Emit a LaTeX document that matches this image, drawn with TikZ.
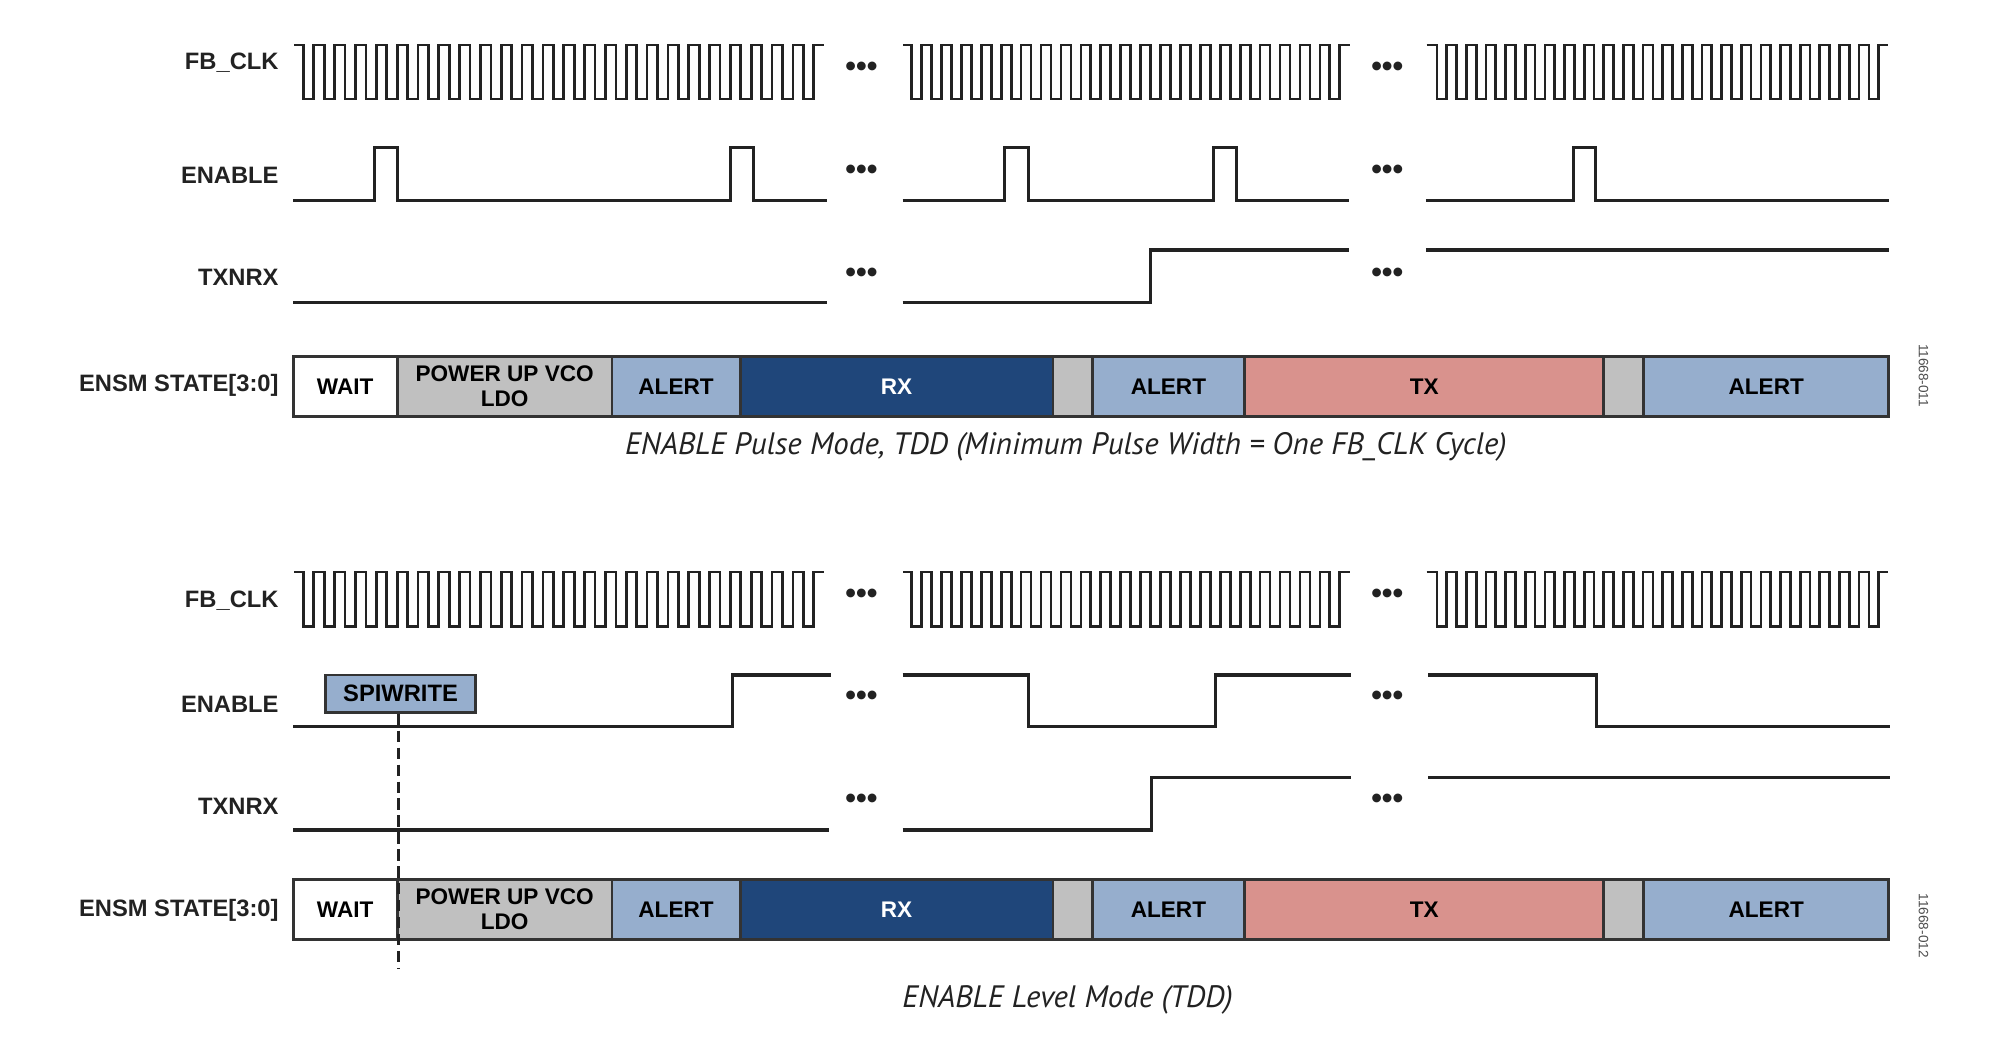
\documentclass[tikz,border=0pt]{standalone}
\usepackage{fontspec}
\setmainfont{Liberation Sans}
\newfontfamily\capfont{PT Sans}
\definecolor{wave}{HTML}{222222}
\definecolor{edge}{HTML}{333333}
\definecolor{greybox}{HTML}{C0C0C0}
\definecolor{lblue}{RGB}{150,174,205}
\definecolor{dblue}{RGB}{31,70,122}
\definecolor{pinkbox}{RGB}{217,146,141}
\newcommand{\clkwave}[6]{% x0, yhi, ylo, stub, n, period
  \draw[clk] (#1,#2) -- ++(#4,0)
    \foreach \k in {1,...,#5}{ -- ++(0,#3-#2) -- ++(#6/2,0) -- ++(0,#2-#3) -- ++(#6/2,0) };
}
\begin{document}
\begin{tikzpicture}[x=0.02cm,y=-0.02cm,
  clk/.style={draw=wave,line width=1.2pt,line join=miter},
  sig/.style={draw=wave,line width=1.4pt,line join=miter},
  lbl/.style={anchor=east,inner sep=0pt,text=wave,font=\fontsize{10.5}{12}\selectfont\bfseries},
  dots/.style={inner sep=0pt,text=wave,font=\fontsize{13.5}{15}\selectfont\bfseries},
  ensm/.style={draw=edge,line width=1.3pt,inner sep=0pt,align=center,text=black,
    font=\fontsize{10}{11}\selectfont\bfseries},
  captxt/.style={inner sep=0pt,text=wave,font=\capfont\itshape\fontsize{13.7}{15}\selectfont},
  fid/.style={inner sep=0pt,rotate=-90,text=black!70,font=\fontsize{6}{7}\selectfont},
  spi/.style={draw=edge,line width=1.3pt,fill=lblue,inner sep=0pt,minimum width=117*0.02cm,
    minimum height=29*0.02cm,font=\fontsize{10.5}{12}\selectfont\bfseries}
]
\useasboundingbox (0,0) rectangle (1568,807);

% ================= TOP PANEL =================
\node[lbl] (tclkl) at (217,49) {FB\_CLK};
\node[lbl] (tenl)  at (217,136) {ENABLE};
\node[lbl] (ttxl)  at (217,216) {TXNRX};
\node[lbl] (tensl) at (217,300) {ENSM STATE[3:0]};

\clkwave{229}{35}{77}{7}{25}{16.2}
\clkwave{702.5}{35}{77}{6.5}{22}{15.49}
\clkwave{1109.6}{35}{77}{8}{23}{15.27}

\draw[sig] (228,156) -- (291,156) -- (291,115) -- (309,115) -- (309,156) -- (568,156)
  -- (568,115) -- (586,115) -- (586,156) -- (643,156);
\draw[sig] (702,156) -- (781.5,156) -- (781.5,115) -- (800,115) -- (800,156) -- (944,156)
  -- (944,115) -- (962,115) -- (962,156) -- (1049,156);
\draw[sig] (1109,156) -- (1224,156) -- (1224,115) -- (1241,115) -- (1241,156) -- (1469,156);

\draw[sig] (228,235) -- (643,235);
\draw[sig] (702,235) -- (895,235) -- (895,194.5) -- (1049,194.5);
\draw[sig] (1109,194.5) -- (1469,194.5);

\foreach \xx/\nm in {670/a,1079/b}{
  \node[dots] (tdc\nm) at (\xx,54) {•••};
  \node[dots] (tde\nm) at (\xx,134) {•••};
  \node[dots] (tdt\nm) at (\xx,214) {•••};
}

\node[ensm,fill=white,minimum width=81*0.02cm,minimum height=46.2*0.02cm] (twait) at (268.5,300.5) {WAIT};
\node[ensm,fill=greybox,minimum width=167*0.02cm,minimum height=46.2*0.02cm] (tpwr) at (392.5,300.5) {POWER UP VCO\\LDO};
\node[ensm,fill=lblue,minimum width=99.6*0.02cm,minimum height=46.2*0.02cm] (tal1) at (525.8,300.5) {ALERT};
\node[ensm,fill=dblue,text=white,minimum width=243.4*0.02cm,minimum height=46.2*0.02cm] (trx) at (697.3,300.5) {RX};
\node[ensm,fill=greybox,minimum width=30.5*0.02cm,minimum height=46.2*0.02cm] (tg1) at (834.25,300.5) {};
\node[ensm,fill=lblue,minimum width=118.5*0.02cm,minimum height=46.2*0.02cm] (tal2) at (908.75,300.5) {ALERT};
\node[ensm,fill=pinkbox,minimum width=279.5*0.02cm,minimum height=46.2*0.02cm] (ttx) at (1107.75,300.5) {TX};
\node[ensm,fill=greybox,minimum width=31*0.02cm,minimum height=46.2*0.02cm] (tg2) at (1263,300.5) {};
\node[ensm,fill=lblue,minimum width=190.5*0.02cm,minimum height=46.2*0.02cm] (tal3) at (1373.75,300.5) {ALERT};

\node[captxt] (tcap) at (829,347.4) {ENABLE Pulse Mode, TDD (Minimum Pulse Width = One FB\_CLK Cycle)};
\node[fid] (tfid) at (1496,292) {11668-011};

% ================= BOTTOM PANEL =================
\node[lbl] (bclkl) at (217,467) {FB\_CLK};
\node[lbl] (benl)  at (217,548) {ENABLE};
\node[lbl] (btxl)  at (217,627) {TXNRX};
\node[lbl] (bensl) at (217,708) {ENSM STATE[3:0]};

\clkwave{229}{445}{487}{7}{25}{16.2}
\clkwave{702.5}{445}{487}{6.5}{22}{15.49}
\clkwave{1109.6}{445}{487}{8}{23}{15.27}

\draw[sig] (228,565) -- (569.5,565) -- (569.5,525) -- (646,525);
\draw[sig] (702,525) -- (800,525) -- (800,565) -- (945.6,565) -- (945.6,525) -- (1051,525);
\draw[sig] (1111,525) -- (1242,525) -- (1242,565) -- (1470,565);

\draw[sig] (228,645.6) -- (645,645.6);
\draw[sig] (702,645.6) -- (895.3,645.6) -- (895.3,605) -- (1051,605);
\draw[sig] (1111,605) -- (1470,605);

\foreach \xx/\nm in {670/a,1079/b}{
  \node[dots] (bdc\nm) at (\xx,464) {•••};
  \node[dots] (bde\nm) at (\xx,543) {•••};
  \node[dots] (bdt\nm) at (\xx,623.5) {•••};
}

\node[ensm,fill=white,minimum width=81*0.02cm,minimum height=46.6*0.02cm] (bwait) at (268.5,707.3) {WAIT};
\node[ensm,fill=greybox,minimum width=167*0.02cm,minimum height=46.6*0.02cm] (bpwr) at (392.5,707.3) {POWER UP VCO\\LDO};
\node[ensm,fill=lblue,minimum width=99.6*0.02cm,minimum height=46.6*0.02cm] (bal1) at (525.8,707.3) {ALERT};
\node[ensm,fill=dblue,text=white,minimum width=243.4*0.02cm,minimum height=46.6*0.02cm] (brx) at (697.3,707.3) {RX};
\node[ensm,fill=greybox,minimum width=30.5*0.02cm,minimum height=46.6*0.02cm] (bg1) at (834.25,707.3) {};
\node[ensm,fill=lblue,minimum width=118.5*0.02cm,minimum height=46.6*0.02cm] (bal2) at (908.75,707.3) {ALERT};
\node[ensm,fill=pinkbox,minimum width=279.5*0.02cm,minimum height=46.6*0.02cm] (btx) at (1107.75,707.3) {TX};
\node[ensm,fill=greybox,minimum width=31*0.02cm,minimum height=46.6*0.02cm] (bg2) at (1263,707.3) {};
\node[ensm,fill=lblue,minimum width=190.5*0.02cm,minimum height=46.6*0.02cm] (bal3) at (1373.75,707.3) {ALERT};

\node[spi] (spi) at (311.5,539.5) {SPIWRITE};
\coordinate (spiend) at (310,753);
\draw[draw=wave,line width=1pt,dash pattern=on 5pt off 2.5pt] (spi.south -| spiend) -- (spiend);

\node[captxt] (bcap) at (830.4,777.8) {ENABLE Level Mode (TDD)};
\node[fid] (bfid) at (1496,720) {11668-012};
\end{tikzpicture}
\end{document}
